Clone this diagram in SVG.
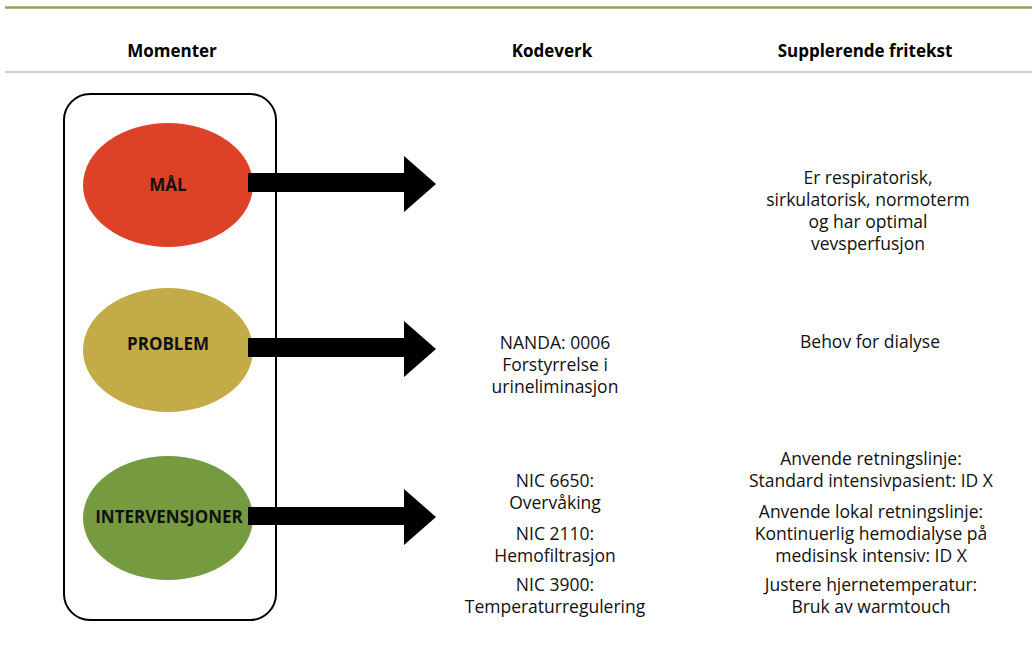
<svg xmlns="http://www.w3.org/2000/svg" width="1032" height="657" viewBox="0 0 1032 657">
<style>
.h{font-family:"Open Sans","Liberation Sans",sans-serif;font-weight:bold;font-size:17px;fill:#000;text-anchor:middle}
.l{font-family:"Open Sans","Liberation Sans",sans-serif;font-weight:bold;font-size:17px;fill:#111;text-anchor:middle}
.t{font-family:"Open Sans","Liberation Sans",sans-serif;font-size:17.5px;fill:#111;text-anchor:middle}
.arrow{fill:#000}
</style>
<rect width="1032" height="657" fill="#fff"/>
<line x1="5" y1="7.5" x2="1032" y2="7.5" stroke="#86a656" stroke-width="2.5"/>
<line x1="5" y1="72" x2="1032" y2="72" stroke="#bfbfbf" stroke-width="1.5"/>
<g id="headers">
<text class="h" x="172" y="57">Momenter</text>
<text class="h" x="552" y="57">Kodeverk</text>
<text class="h" x="865" y="57">Supplerende fritekst</text>
</g>
<g id="container"><rect x="64" y="94" width="212" height="526" rx="26" ry="26" fill="none" stroke="#000" stroke-width="2"/></g>
<g id="mal"><ellipse cx="168" cy="185" rx="85" ry="62" fill="#dd4127"/><text class="l" x="168" y="191">MÅL</text></g>
<g id="problem"><ellipse cx="168" cy="350" rx="85" ry="62" fill="#c3ab48"/><text class="l" x="168" y="350">PROBLEM</text></g>
<g id="intervensjoner"><ellipse cx="168" cy="518" rx="85" ry="62" fill="#759a3f"/><text class="l" x="169" y="523">INTERVENSJONER</text></g>
<g id="connectors">
<polygon class="arrow" points="248,173 404,173 404,156 436,184 404,212 404,192 248,192"/>
<polygon class="arrow" points="248,338 404,338 404,321 436,349 404,377 404,357 248,357"/>
<polygon class="arrow" points="248,507 404,507 404,489 436,517 404,545 404,525 248,525"/>
</g>
<g id="mal-text">
<text class="t" x="868" y="184">Er respiratorisk,</text>
<text class="t" x="868" y="206">sirkulatorisk, normoterm</text>
<text class="t" x="868" y="228">og har optimal</text>
<text class="t" x="868" y="250">vevsperfusjon</text>
</g>
<g id="problem-text">
<text class="t" x="555" y="349">NANDA: 0006</text>
<text class="t" x="555" y="371">Forstyrrelse i</text>
<text class="t" x="555" y="393">urineliminasjon</text>
<text class="t" x="870" y="348">Behov for dialyse</text>
</g>
<g id="intervensjoner-text">
<text class="t" x="555" y="487">NIC 6650:</text>
<text class="t" x="555" y="509">Overvåking</text>
<text class="t" x="555" y="540">NIC 2110:</text>
<text class="t" x="555" y="562">Hemofiltrasjon</text>
<text class="t" x="555" y="591">NIC 3900:</text>
<text class="t" x="555" y="613">Temperaturregulering</text>
<text class="t" x="871" y="465">Anvende retningslinje:</text>
<text class="t" x="871" y="487">Standard intensivpasient: ID X</text>
<text class="t" x="871" y="518">Anvende lokal retningslinje:</text>
<text class="t" x="871" y="540">Kontinuerlig hemodialyse på</text>
<text class="t" x="871" y="562">medisinsk intensiv: ID X</text>
<text class="t" x="871" y="591">Justere hjernetemperatur:</text>
<text class="t" x="871" y="613">Bruk av warmtouch</text>
</g>
</svg>
